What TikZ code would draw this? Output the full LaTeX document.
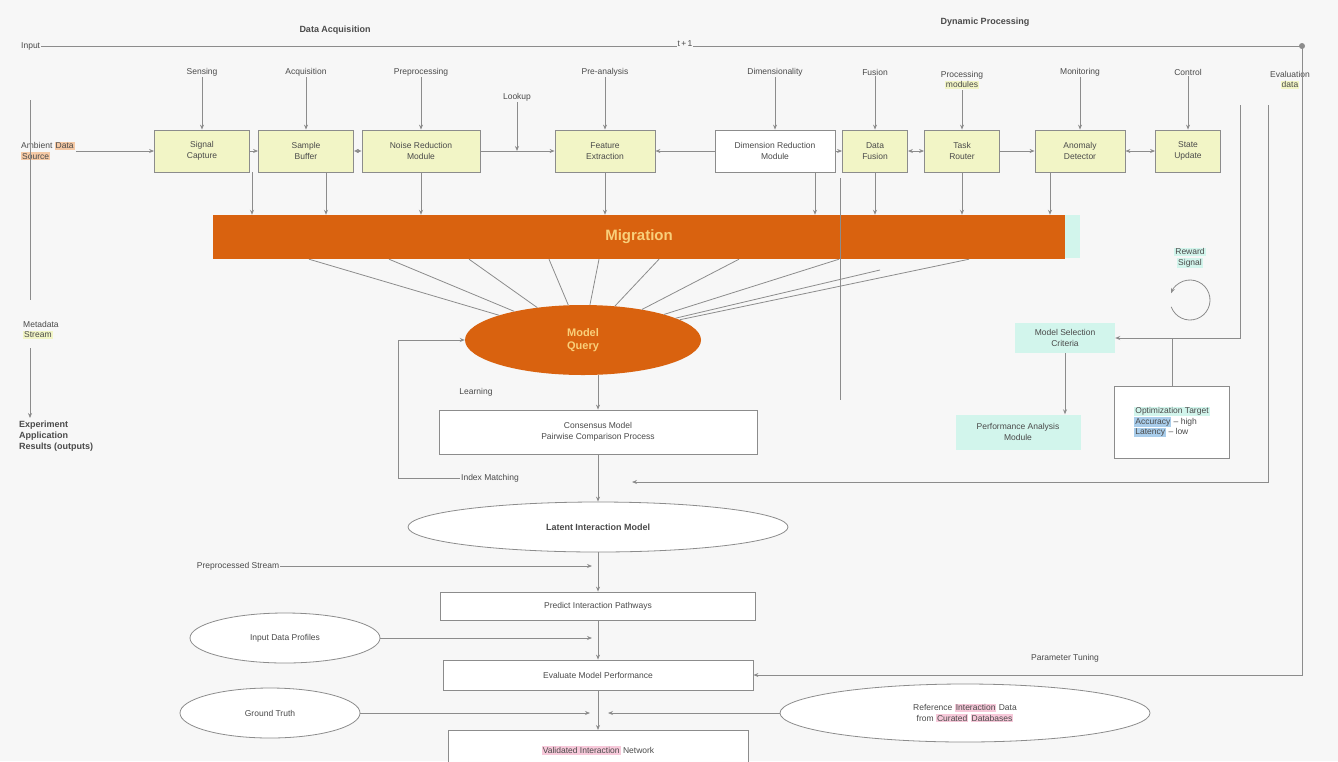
\documentclass[tikz,border=0pt]{standalone}
\usepackage{fontspec}
\setmainfont{Liberation Sans}
\usetikzlibrary{arrows.meta,shapes.geometric,calc}
\definecolor{bg}{HTML}{F7F7F7}
\definecolor{ln}{HTML}{8C8C8C}
\definecolor{tx}{HTML}{4A4A4A}
\definecolor{ylw}{HTML}{F2F5C6}
\definecolor{org}{HTML}{D9620F}
\definecolor{orgl}{HTML}{F5C9A5}
\definecolor{orgtx}{HTML}{F9CF7A}
\definecolor{cyn}{HTML}{D2F5EC}
\definecolor{blu}{HTML}{A9CDEB}
\definecolor{pnk}{HTML}{F7C9DA}
\setlength{\fboxsep}{1pt}
\begin{document}
\begin{tikzpicture}[x=1pt,y=-1pt,
 font=\fontsize{8.5}{10.5}\selectfont, text=tx,
 conn/.style={draw=ln, line width=0.8pt},
 arr/.style={conn,-{Stealth[length=5pt,width=4pt]}},
 darr/.style={conn,{Stealth[length=5pt,width=4pt]}-{Stealth[length=5pt,width=4pt]}},
 box/.style={draw=ln, line width=0.8pt, fill=ylw, align=center, inner sep=2pt, minimum height=42pt},
 wbox/.style={box, fill=white},
 lab/.style={align=center, inner sep=1pt},
 ell/.style={ellipse, draw=ln, line width=0.8pt, fill=white, align=center, inner sep=1pt}]
\fill[bg] (0,0) rectangle (1338,761);
\useasboundingbox (0,0) rectangle (1338,761);

% top header
\node[lab, font=\fontsize{9}{10}\selectfont\bfseries] (hdA) at (335,30) {Data Acquisition};
\node[lab, font=\fontsize{9}{10}\selectfont\bfseries] (hdB) at (985,22) {Dynamic Processing};
\node[lab, fill=bg, anchor=west] (inp) at (20,46) {Input};
\coordinate (tr) at (1302,46);
\draw[conn] (inp.east) -- (tr);
\fill[ln] (tr) circle (3pt);
\node[lab, fill=bg] (tob) at (685,44) {t\,+\,1};

% column labels
\node[lab] (l1) at (202,72) {Sensing};
\node[lab] (l2) at (306,72) {Acquisition};
\node[lab] (l3) at (421,72) {Preprocessing};
\node[lab] (l4) at (605,72) {Pre-analysis};
\node[lab] (l5) at (775,72) {Dimensionality};
\node[lab] (l6) at (875,72) {Fusion};
\node[lab] (l7) at (962,80) {Processing\\\colorbox{ylw}{modules}};
\node[lab] (l8) at (1080,72) {Monitoring};
\node[lab] (l9) at (1188,72) {Control};
\node[lab] (evl) at (1290,80) {Evaluation\\\colorbox{ylw}{data}};
\node[lab] (lk) at (517,97) {Lookup};

% top boxes
\node[box, minimum width=95pt] (b1) at (202,151) {Signal\\Capture};
\node[box, minimum width=95pt] (b2) at (306,151) {Sample\\Buffer};
\node[box, minimum width=118pt] (b3) at (421,151) {Noise Reduction\\Module};
\node[box, minimum width=100pt] (b4) at (605,151) {Feature\\Extraction};
\node[wbox, minimum width=120pt] (b5) at (775,151) {Dimension Reduction\\Module};
\node[box, minimum width=65pt] (b6) at (875,151) {Data\\Fusion};
\node[box, minimum width=75pt] (b7) at (962,151) {Task\\Router};
\node[box, minimum width=90pt] (b8) at (1080,151) {Anomaly\\Detector};
\node[box, minimum width=65pt] (b9) at (1188,151) {State\\Update};

\foreach \i in {1,...,9} \draw[arr] (l\i) -- (b\i);
\coordinate (lkj) at (517,151);
\draw[arr] (lk) -- (lkj);

\draw[arr] (b1) -- (b2);
\draw[darr] (b2) -- (b3);
\draw[arr] (b3) -- (b4);
\draw[arr] (b5) -- (b4);
\draw[arr] (b5) -- (b6);
\draw[darr] (b6) -- (b7);
\draw[arr] (b7) -- (b8);
\draw[darr] (b8) -- (b9);

% left source
\node[lab, anchor=west, align=left] (amb) at (20,151) {Ambient \colorbox{orgl}{Data}\\\colorbox{orgl}{Source}};
\draw[arr] (amb) -- (b1);

% orange bar
\node[fill=org, minimum width=852pt, minimum height=44pt, text=orgtx,
      font=\fontsize{15}{17}\selectfont\bfseries] (bar) at (639,237) {Migration};
\fill[cyn] (1065,215) rectangle (1080,258);

\draw[arr] ([xshift=50pt]b1.south) -- ([xshift=50pt]b1.south |- bar.north);
\draw[arr] ([xshift=20pt]b2.south) -- ([xshift=20pt]b2.south |- bar.north);
\draw[arr] (b3.south) -- (b3.south |- bar.north);
\draw[arr] (b4.south) -- (b4.south |- bar.north);
\draw[arr] ([xshift=40pt]b5.south) -- ([xshift=40pt]b5.south |- bar.north);
\draw[arr] (b6.south) -- (b6.south |- bar.north);
\draw[arr] (b7.south) -- (b7.south |- bar.north);
\draw[arr] ([xshift=-30pt]b8.south) -- ([xshift=-30pt]b8.south |- bar.north);

% model ellipse
\node[ellipse, fill=org, minimum width=236pt, minimum height=70pt, text=orgtx,
      font=\fontsize{11}{13}\selectfont\bfseries, align=center] (model) at (583,340) {Model\\Query};
\foreach \dx in {-330,-250,-170,-90,-40,20,100,200,330}
  \draw[conn] ([xshift=\dx pt]bar.south) -- (model);
\coordinate (rb1) at (880,270);
\draw[conn] (rb1) -- (model);

% consensus
\node[wbox, minimum width=318pt, minimum height=44pt] (cons) at (598,432) {Consensus Model\\Pairwise Comparison Process};
\draw[arr] (model.south -| cons) -- (cons);
\node[lab] (learn) at (476,392) {Learning};
\node[lab] (idx) at (490,478) {Index Matching};
\coordinate (fA) at (398,340);
\coordinate (fB) at (398,478);
\draw[arr] (fB) -- (fA) -- (model.west);
\draw[conn] (fB) -- (idx.west);

% right frame
\coordinate (rv0) at (840,178);
\coordinate (rv1) at (840,400);
\draw[conn] (rv0) -- (rv1);
\coordinate (rf1) at (1268,105);
\coordinate (rf2) at (1268,482);
\coordinate (rf3) at (632,482);
\draw[arr] (rf1) -- (rf2) -- (rf3);
\coordinate (rc1) at (1240,105);
\coordinate (rc2) at (1240,338);

% cyan elements
\node[lab] (fb) at (1190,258) {\colorbox{cyn}{Reward}\\\colorbox{cyn}{Signal}};
\draw[arr] ([shift={(1190,300)}]200:20pt) arc (200:520:20pt);
\node[fill=cyn, minimum width=100pt, minimum height=30pt, align=center, inner sep=1pt] (c2) at (1065,338) {Model Selection\\Criteria};
\node[fill=cyn, minimum width=125pt, minimum height=35pt, align=center, inner sep=1pt] (c3) at (1018,432) {Performance Analysis\\Module};
\node[draw=ln, line width=0.8pt, fill=white, minimum width=115pt, minimum height=72pt, align=left, inner sep=3pt] (c4) at (1172,422)
  {\colorbox{cyn}{Optimization Target}\\\colorbox{blu}{Accuracy} -- high\\\colorbox{blu}{Latency} -- low};
\draw[arr] (rc1) -- (rc2) -- (c2.east);
\draw[arr] (c2.south) -- (c2.south |- c3.north);
\draw[conn] (c4.north) -- (c4.north |- c2.east);

% left column
\coordinate (lv1) at (30,100);
\coordinate (lv2) at (30,300);
\draw[conn] (lv1) -- (lv2);
\node[lab, anchor=west, align=left] (meta) at (22,330) {Metadata\\\colorbox{ylw}{Stream}};
\node[lab, anchor=north west, align=left, font=\fontsize{9}{11}\selectfont\bfseries] (out) at (18,420) {Experiment\\Application\\Results (outputs)};
\coordinate (mv1) at (30,348);
\coordinate (mv2) at (30,418);
\draw[arr] (mv1) -- (mv2);

% lower part
\node[ell, minimum width=380pt, minimum height=50pt, font=\fontsize{9}{10}\selectfont\bfseries] (lat) at (598,527) {Latent Interaction Model};
\draw[arr] (cons) -- (lat);
\node[lab] (pps) at (238,566) {Preprocessed Stream};
\coordinate (ppj) at (592,566);
\draw[arr] (pps) -- (ppj);
\node[wbox, minimum width=315pt, minimum height=28pt] (pip) at (598,606) {Predict Interaction Pathways};
\draw[arr] (lat) -- (pip);
\node[ell, minimum width=190pt, minimum height=50pt] (idp) at (285,638) {Input Data Profiles};
\coordinate (idj) at (592,638);
\draw[arr] (idp) -- (idj);
\node[wbox, minimum width=310pt, minimum height=30pt] (emp) at (598,675) {Evaluate Model Performance};
\draw[arr] (pip) -- (emp);
\coordinate (fr2) at (1302,675);
\draw[arr] (tr) -- (fr2) -- (emp.east);
\node[lab] (ptn) at (1065,658) {Parameter Tuning};
\node[ell, minimum width=180pt, minimum height=50pt] (gt) at (270,713) {Ground Truth};
\coordinate (gtj) at (590,713);
\draw[arr] (gt) -- (gtj);
\node[ell, minimum width=370pt, minimum height=58pt] (refd) at (965,713) {Reference \colorbox{pnk}{Interaction} Data\\from \colorbox{pnk}{Curated} \colorbox{pnk}{Databases}};
\coordinate (refj) at (608,713);
\draw[arr] (refd) -- (refj);
\node[wbox, minimum width=300pt, minimum height=40pt, anchor=north] (vin) at (598,730) {\colorbox{pnk}{Validated Interaction} Network};
\draw[arr] (emp) -- (vin);
\end{tikzpicture}
\end{document}
